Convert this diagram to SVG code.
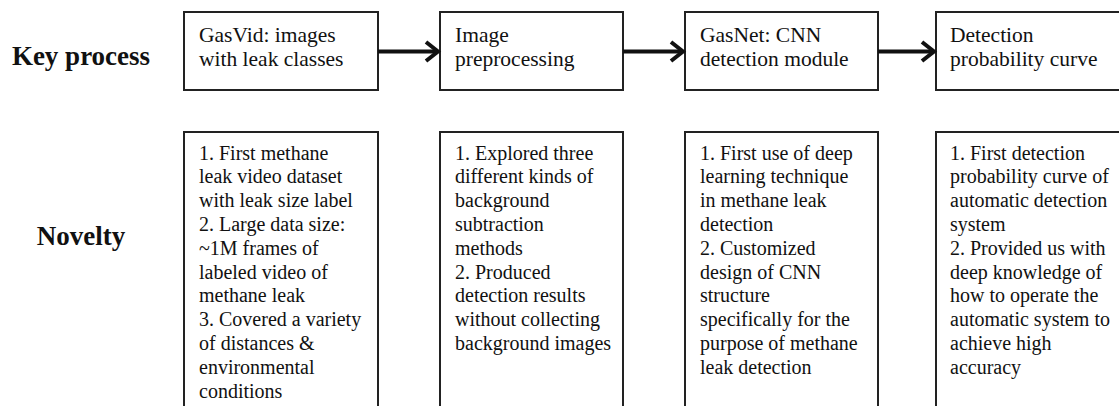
<svg xmlns="http://www.w3.org/2000/svg" width="1119" height="406" viewBox="0 0 1119 406">
<defs>
<style>
.box{fill:#fff;stroke:#222;stroke-width:2}
.t{font-family:"Liberation Serif","Times New Roman",serif;font-size:21.5px;fill:#111}
.b{font-family:"Liberation Serif","Times New Roman",serif;font-size:20px;fill:#111}
.h{font-family:"Liberation Serif","Times New Roman",serif;font-size:27px;font-weight:bold;fill:#111}
.arr{fill:none;stroke:#111;stroke-width:4}
.head{fill:none;stroke:#111;stroke-width:4;stroke-linejoin:miter}
</style>
</defs>
<rect width="1119" height="406" fill="#fff"/>
<g id="label-key"><text class="h" x="81" y="65" text-anchor="middle">Key process</text></g>
<g id="label-novelty"><text class="h" x="81" y="245" text-anchor="middle">Novelty</text></g>

<g id="k1"><rect class="box" x="184" y="12" width="194" height="78"/>
<text class="t" x="199" y="42">GasVid: images</text><text class="t" x="199" y="66">with leak classes</text></g>
<g id="k2"><rect class="box" x="440" y="12" width="183" height="78"/>
<text class="t" x="455" y="42">Image</text><text class="t" x="455" y="66">preprocessing</text></g>
<g id="k3"><rect class="box" x="685" y="12" width="193" height="78"/>
<text class="t" x="700" y="42">GasNet: CNN</text><text class="t" x="700" y="66">detection module</text></g>
<g id="k4"><rect class="box" x="936" y="12" width="200" height="78"/>
<text class="t" x="950" y="42">Detection</text><text class="t" x="950" y="66">probability curve</text></g>

<g id="connectors">
<line class="arr" x1="378" y1="51.5" x2="437" y2="51.5"/><polyline class="head" points="426,42 438,51.5 426,61"/>
<line class="arr" x1="623" y1="51.5" x2="682" y2="51.5"/><polyline class="head" points="671,42 683,51.5 671,61"/>
<line class="arr" x1="878" y1="51.5" x2="933" y2="51.5"/><polyline class="head" points="922,42 934,51.5 922,61"/>
</g>

<g id="n1"><rect class="box" x="184" y="132" width="194" height="290"/>
<text class="b">
<tspan x="199" y="159.5">1. First methane</tspan>
<tspan x="199" y="183.3">leak video dataset</tspan>
<tspan x="199" y="207.1">with leak size label</tspan>
<tspan x="199" y="230.9">2. Large data size:</tspan>
<tspan x="199" y="254.7">~1M frames of</tspan>
<tspan x="199" y="278.5">labeled video of</tspan>
<tspan x="199" y="302.3">methane leak</tspan>
<tspan x="199" y="326.1">3. Covered a variety</tspan>
<tspan x="199" y="349.9">of distances &amp;</tspan>
<tspan x="199" y="373.7">environmental</tspan>
<tspan x="199" y="397.5">conditions</tspan>
</text></g>
<g id="n2"><rect class="box" x="440" y="132" width="183" height="290"/>
<text class="b">
<tspan x="455" y="159.5">1. Explored three</tspan>
<tspan x="455" y="183.3">different kinds of</tspan>
<tspan x="455" y="207.1">background</tspan>
<tspan x="455" y="230.9">subtraction</tspan>
<tspan x="455" y="254.7">methods</tspan>
<tspan x="455" y="278.5">2. Produced</tspan>
<tspan x="455" y="302.3">detection results</tspan>
<tspan x="455" y="326.1">without collecting</tspan>
<tspan x="455" y="349.9">background images</tspan>
</text></g>
<g id="n3"><rect class="box" x="685" y="132" width="193" height="290"/>
<text class="b">
<tspan x="700" y="159.5">1. First use of deep</tspan>
<tspan x="700" y="183.3">learning technique</tspan>
<tspan x="700" y="207.1">in methane leak</tspan>
<tspan x="700" y="230.9">detection</tspan>
<tspan x="700" y="254.7">2. Customized</tspan>
<tspan x="700" y="278.5">design of CNN</tspan>
<tspan x="700" y="302.3">structure</tspan>
<tspan x="700" y="326.1">specifically for the</tspan>
<tspan x="700" y="349.9">purpose of methane</tspan>
<tspan x="700" y="373.7">leak detection</tspan>
</text></g>
<g id="n4"><rect class="box" x="936" y="132" width="200" height="290"/>
<text class="b">
<tspan x="950" y="159.5">1. First detection</tspan>
<tspan x="950" y="183.3">probability curve of</tspan>
<tspan x="950" y="207.1">automatic detection</tspan>
<tspan x="950" y="230.9">system</tspan>
<tspan x="950" y="254.7">2. Provided us with</tspan>
<tspan x="950" y="278.5">deep knowledge of</tspan>
<tspan x="950" y="302.3">how to operate the</tspan>
<tspan x="950" y="326.1">automatic system to</tspan>
<tspan x="950" y="349.9">achieve high</tspan>
<tspan x="950" y="373.7">accuracy</tspan>
</text></g>
</svg>
